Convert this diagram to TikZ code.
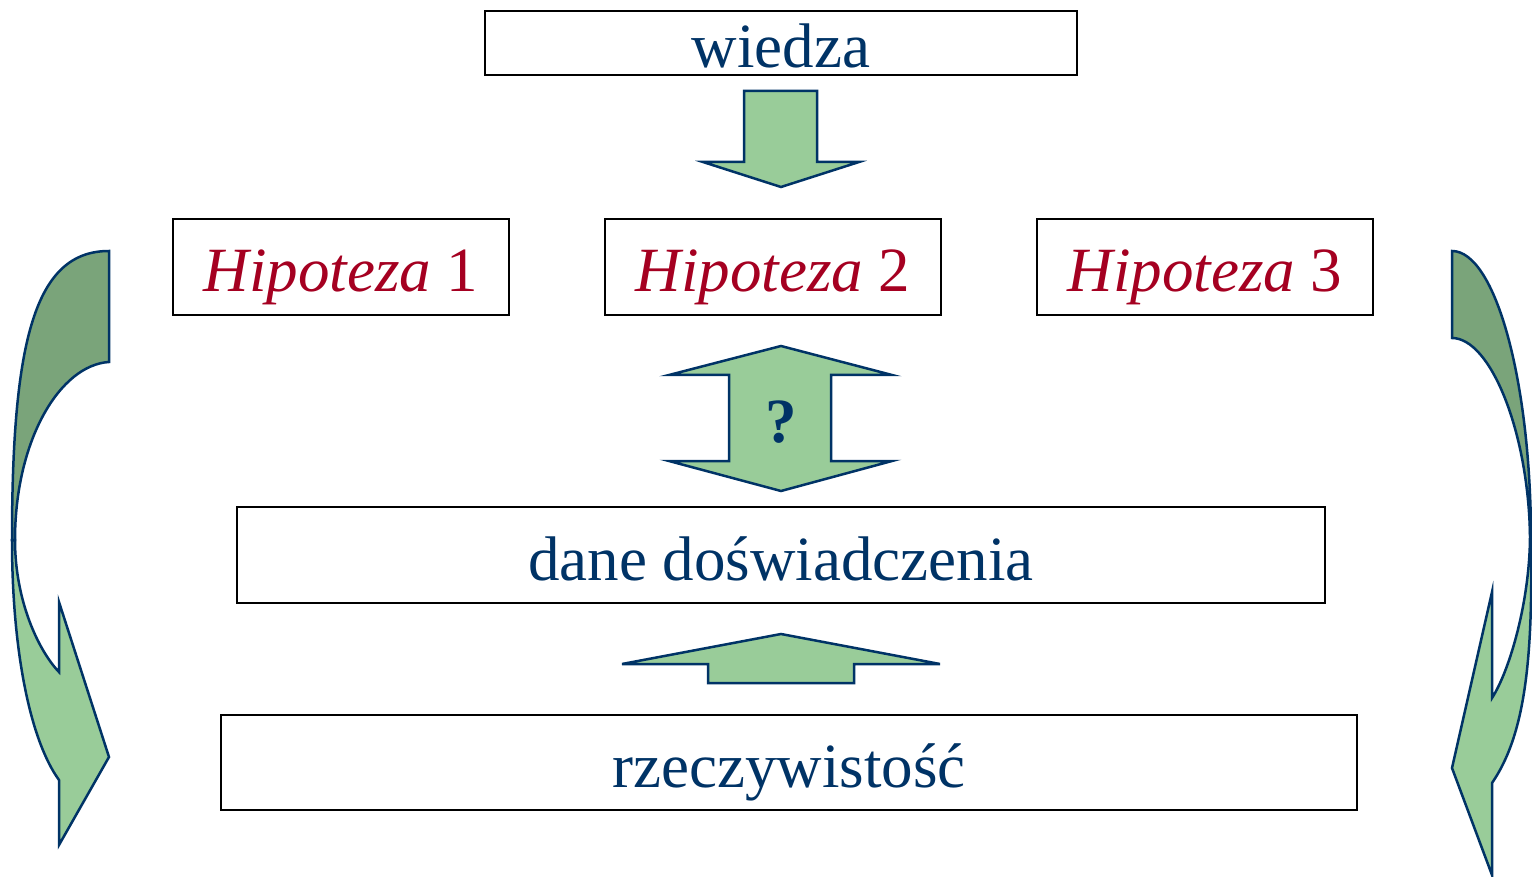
\documentclass[tikz,border=0pt]{standalone}
\usepackage{fontspec}
\setmainfont{Liberation Serif}
\definecolor{navy}{HTML}{003366}
\definecolor{hypred}{HTML}{A50021}
\definecolor{lightgreen}{HTML}{99CC99}
\definecolor{darkgreen}{HTML}{7AA47A}
\tikzset{
  box/.style={draw=black, line width=2pt, fill=white, inner sep=0pt,
    text height=50pt, text depth=0pt, font=\fontsize{63}{75}\selectfont},
  plain/.style={box, text=navy},
  hyp/.style={box, text=hypred, minimum width=336pt, minimum height=96pt},
  blockarrow/.style={draw=navy, line width=2.5pt, fill=lightgreen},
  bandback/.style={draw=navy, line width=2.5pt, fill=darkgreen},
}
\begin{document}
\begin{tikzpicture}[x=1pt,y=-1pt]
\useasboundingbox (0,0) rectangle (1532,877);

% boxes
\node[plain, minimum width=592pt, minimum height=64pt] (wiedza) at (781,43) {wiedza};
\node[hyp] (h1) at (341,267) {\textit{Hipoteza} 1};
\node[hyp] (h2) at (773,267) {\textit{Hipoteza} 2};
\node[hyp] (h3) at (1205,267) {\textit{Hipoteza} 3};
\node[plain, minimum width=1088pt, minimum height=96pt] (dane) at (781,555) {dane doświadczenia};
\node[plain, minimum width=1136pt, minimum height=95pt] (rzecz) at (789,762.5) {rzeczywistość};

% arrow from knowledge down to the hypotheses
\draw[blockarrow] (744,91) -- (817,91) -- (817,162) -- (859,162) -- (781,187)
  -- (703,162) -- (744,162) -- cycle;

% two-way arrow between hypotheses and data
\draw[blockarrow] (781,346) -- (892,375) -- (831,375) -- (831,461) -- (892,461)
  -- (781,491) -- (669,461) -- (729,461) -- (729,375) -- (669,375) -- cycle;
\node[text=navy, inner sep=0pt, text height=46pt, text depth=0pt,
  font=\fontsize{63}{75}\selectfont\bfseries] (q) at (781,419) {?};

% arrow from reality up to the data
\draw[blockarrow] (781,634) -- (940,664) -- (854,664) -- (854,683) -- (708,683)
  -- (708,664) -- (622,664) -- cycle;

% left curved arrow
\draw[blockarrow] (12,540) .. controls (12,650) and (30,740) .. (59,780)
  -- (59,845) -- (109,757) -- (59,602) -- (59,672)
  .. controls (38,650) and (15,600) .. (15,540) -- cycle;
\draw[bandback] (109,251) -- (109,362) .. controls (60,365) and (15,440) .. (15,540)
  -- (12,540) .. controls (12,340) and (35,251) .. (109,251) -- cycle;

% right curved arrow
\draw[blockarrow] (1531,540) .. controls (1533,660) and (1525,735) .. (1492,783)
  -- (1492,875) -- (1452,768) -- (1492,592) -- (1492,698)
  .. controls (1510,670) and (1530,600) .. (1530,535) -- cycle;
\draw[bandback] (1452,251) -- (1452,338) .. controls (1490,338) and (1528,430) .. (1530,535)
  -- (1531,540) .. controls (1531,380) and (1495,251) .. (1452,251) -- cycle;
\end{tikzpicture}
\end{document}
